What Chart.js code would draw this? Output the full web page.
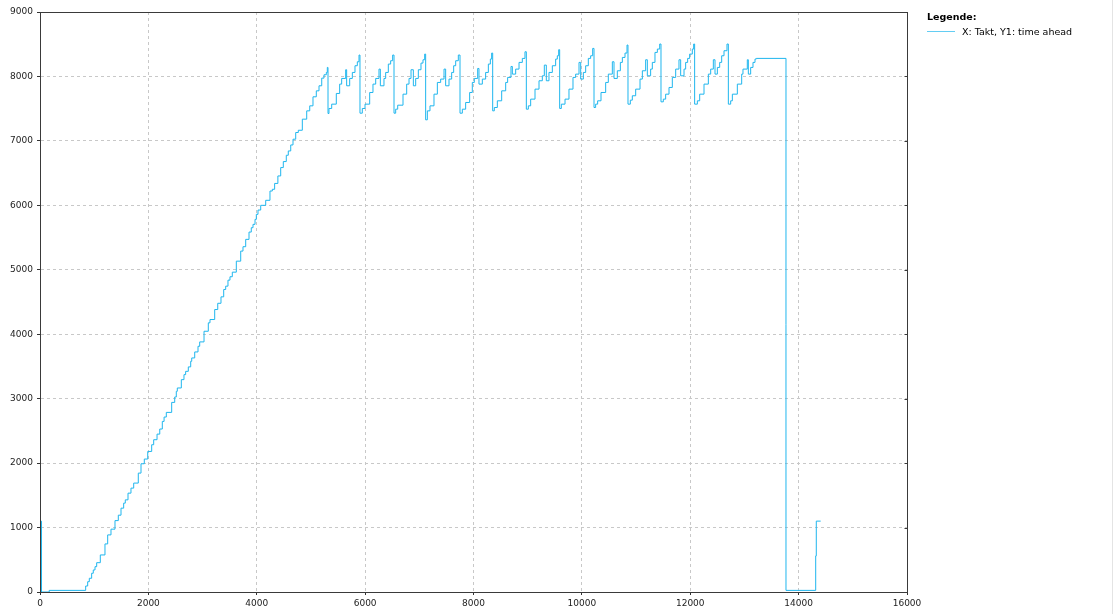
<!DOCTYPE html>
<html>
<head>
<meta charset="utf-8">
<script src="https://cdn.jsdelivr.net/npm/chart.js@4.4.1/dist/chart.umd.min.js"></script>
<style>
html,body{margin:0;padding:0;background:#fff;}
#wrap{position:relative;width:1117px;height:614px;overflow:hidden;background:#fff;}
#c{position:absolute;left:0;top:0;}
.lg{position:absolute;font-family:"DejaVu Sans",sans-serif;font-size:9.5px;color:#000;white-space:nowrap;}
#lgTitle{left:927px;top:11px;font-weight:bold;}
#lgLine{position:absolute;left:927px;top:31px;width:28px;height:0;border-top:1px solid #63cdf3;}
#lgText{left:962px;top:26px;}
#edge{position:absolute;left:1112px;top:0;width:1px;height:614px;background:#e4e4e4;}
</style>
</head>
<body>
<div id="wrap">
<canvas id="c" width="1117" height="614"></canvas>
<div class="lg" id="lgTitle">Legende:</div>
<div id="lgLine"></div>
<div class="lg" id="lgText">X: Takt, Y1: time ahead</div>
<div id="edge"></div>
</div>
<script>
// ---- data (stepped line: value changes at each Takt) ----
const seriesName = "X: Takt, Y1: time ahead";
const takt = [
0,28,170,
843,880,910,953,983,1015,1046,1113,1199,1249,1310,1384,1445,1495,1544,1574,1624,1679,1729,1814,1864,1925,1988,2061,2098,
2160,2210,
2257,2290,2331,2430,2486,2515,2534,2608,2657,2688,2737,2781,2800,2855,2916,2947,3027,3106,3137,3224,
3280,3340,3390,
3427,3469,3506,3549,3623,3704,3746,3796,3857,3899,3931,3968,3992,4023,4073,4165,4244,4287,
4330,4390,
4442,4490,4545,4582,4627,4669,4719,4767,4841,4922,4978,5038,5099,5149,5199,5241,5284,5302,5315,5333,5383,5468,
5530,5567,5641,5659,5715,5764,5813,5856,5887,5905,
5948,5998,6084,6145,6195,6256,6281,6348,6379,6428,6471,6508,6533,
6564,6601,6699,6767,6810,6847,6890,6933,6982,7031,7068,7099,7117,
7148,7197,7271,7333,7394,7456,7486,7548,7597,7634,7671,7720,7751,
7794,7855,7929,7978,8015,8077,8101,8163,8224,8274,8311,8335,8354,
8384,8440,8520,8594,8630,8692,8717,8778,8840,8901,8950,8975,
9012,9055,9135,9209,9270,9307,9344,9393,9455,9516,9547,9572,9590,
9621,9689,9762,9836,9885,9947,9978,10027,10070,10119,10162,10199,10224,
10254,10291,10353,10439,10488,10562,10593,10654,10710,10747,10796,10833,10851,
10894,10931,10993,11073,11116,11177,11208,11269,11300,11349,11393,11436,11460,
11503,11546,11608,11669,11731,11792,11823,11885,11915,11952,11989,12038,12063,12081,
12131,12174,12254,12334,12377,12426,12457,12500,12543,12580,12623,12678,12703,
12746,12777,12869,12949,12973,13053,13072,13115,13158,13195,13219,
13767,14315,14326,14407
];
const timeAhead = [
1100,0,25,
93,160,213,291,342,393,455,575,746,886,975,1108,1192,1301,1379,1430,1534,1612,1690,1845,1990,2063,2181,2285,2363,
2450,2529,
2647,2715,2787,2942,3026,3114,3166,3295,3373,3424,3493,3580,3632,3725,3813,3881,4046,4177,4228,4383,
4480,4580,4694,
4746,4839,4892,4963,5134,5290,5358,5472,5585,5653,5705,5782,5860,5927,6000,6078,6222,6249,
6340,6456,
6586,6679,6777,6844,6937,7026,7130,7165,7337,7466,7544,7684,7777,7855,7974,8026,8062,8140,7425,7503,7570,7736,
7881,7969,8104,7855,7969,8062,8166,8228,8332,7430,
7503,7570,7751,7881,7969,8114,7855,7969,8062,8192,8244,8332,7430,
7492,7554,7725,7881,7969,8104,7855,7969,8104,8207,8259,8347,7327,
7466,7544,7725,7907,7959,8114,7855,7959,8062,8166,8244,8332,7430,
7492,7596,7751,7907,7969,8124,7881,7959,8062,8192,8270,8363,7466,
7518,7622,7777,7907,7985,8155,8036,8114,8218,8280,8383,7492,
7544,7648,7803,7933,8010,8176,7933,8062,8166,8269,8321,8415,7503,
7570,7648,7803,7985,8036,8218,7959,8062,8166,8280,8321,8435,7518,
7570,7622,7751,7907,8036,8228,7969,8088,8218,8295,8363,8487,7570,
7632,7700,7803,7959,8088,8259,8010,8114,8218,8373,8425,8503,7606,
7648,7725,7829,7985,8114,8259,8010,8114,8218,8280,8347,8425,8503,7570,
7622,7725,7881,8036,8114,8259,8036,8140,8218,8321,8399,8503,7570,
7622,7725,7881,8036,8114,8259,8036,8140,8218,8270,8280,
25,560,1100,1100
];
const xTickValues = [0,2000,4000,6000,8000,10000,12000,14000,16000];
const yTickValues = [0,1000,2000,3000,4000,5000,6000,7000,8000,9000];

const points = takt.map((x, i) => ({x: x, y: timeAhead[i]}));

const framePlugin = {
  id: 'frame',
  afterDraw(chart) {
    const {ctx, chartArea: a, scales} = chart;
    ctx.save();
    ctx.strokeStyle = '#3a3a3a';
    ctx.lineWidth = 1;
    const l = Math.round(a.left) + 0.5, t = Math.round(a.top) + 0.5;
    const r = Math.round(a.right) + 0.5, b = Math.round(a.bottom) + 0.5;
    ctx.strokeRect(l, t, r - l, b - t);
    ctx.beginPath();
    yTickValues.forEach(v => {
      const y = Math.round(scales.y.getPixelForValue(v)) + 0.5;
      ctx.moveTo(r - 3, y); ctx.lineTo(r, y);
    });
    ctx.stroke();
    ctx.restore();
  }
};

new Chart(document.getElementById('c'), {
  type: 'line',
  data: {
    datasets: [{
      label: seriesName,
      data: points,
      stepped: true,
      borderColor: '#1fb6ee',
      backgroundColor: '#1fb6ee',
      borderWidth: 1,
      pointRadius: 0,
      pointHoverRadius: 0,
      fill: false,
      tension: 0
    }]
  },
  options: {
    responsive: false,
    animation: false,
    events: [],
    layout: {padding: {left: 0, top: 12, right: 210, bottom: 0}},
    plugins: {legend: {display: false}, tooltip: {enabled: false}},
    scales: {
      x: {
        type: 'linear',
        min: 0, max: 16000,
        afterFit: s => { s.height = 22; },
        afterBuildTicks: s => { s.ticks = xTickValues.map(v => ({value: v})); },
        ticks: {
          color: '#222',
          font: {family: 'DejaVu Sans', size: 9},
          padding: 3,
          maxRotation: 0,
          autoSkip: false,
          callback: v => String(v)
        },
        grid: {
          color: '#c8c8c8',
          lineWidth: 1,
          tickLength: 3,
          tickColor: '#333',
          tickBorderDash: [],
          drawTicks: true
        },
        border: {display: true, color: '#3a3a3a', dash: [3, 3]}
      },
      y: {
        type: 'linear',
        min: 0, max: 9000,
        afterFit: s => { s.width = 40; },
        afterBuildTicks: s => { s.ticks = yTickValues.map(v => ({value: v})); },
        ticks: {
          color: '#222',
          font: {family: 'DejaVu Sans', size: 9},
          padding: 4,
          autoSkip: false,
          callback: v => String(v)
        },
        grid: {
          color: '#c8c8c8',
          lineWidth: 1,
          tickLength: 3,
          tickColor: '#333',
          tickBorderDash: [],
          drawTicks: true
        },
        border: {display: true, color: '#3a3a3a', dash: [3, 3]}
      }
    }
  },
  plugins: [framePlugin]
});
</script>
</body>
</html>
